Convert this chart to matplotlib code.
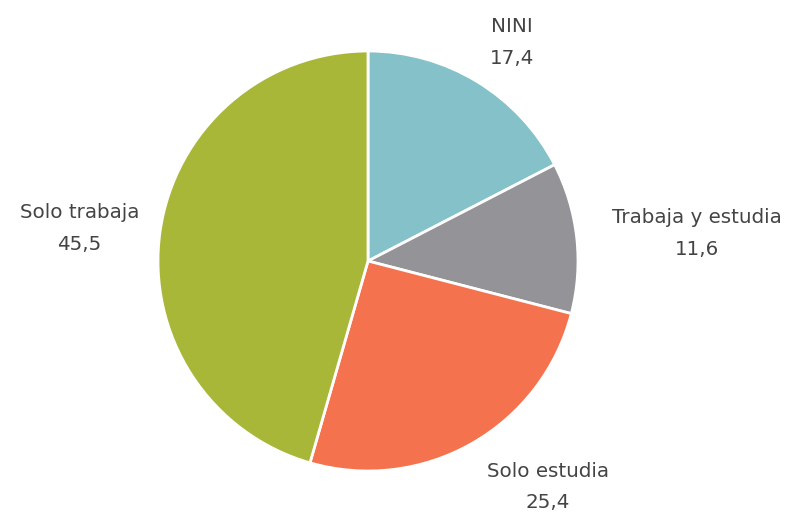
import matplotlib.pyplot as plt
import numpy as np

categories = ["NINI", "Trabaja y estudia", "Solo estudia", "Solo trabaja"]
values = [17.4, 11.6, 25.4, 45.5]
value_labels = ["17,4", "11,6", "25,4", "45,5"]
colors = ["#84c1c8", "#939398", "#f4734e", "#a9b739"]

plt.rcParams['font.family'] = ['DejaVu Sans']

fig = plt.figure(figsize=(7.96, 5.14), dpi=100)
W, H = 796, 514
cx, cy, r = 368, 514 - 261, 210
ax = fig.add_axes([(cx - r) / W, (cy - r) / H, 2 * r / W, 2 * r / H])

labels = [f"{c}\n{v}" for c, v in zip(categories, value_labels)]
wedges, texts = ax.pie(
    values,
    labels=     labels,
    colors=     colors,
    startangle= 90,
    counterclock=False,
    radius=     1,
    wedgeprops= dict(edgecolor="white", linewidth=2),
    textprops=  dict(fontsize=14.3, color="#444444", linespacing=1.85),
)

# label distance / x nudge per slice, placed at each wedge's mid angle
dists = [1.22, 1.17, 1.24, 1.10]
nudge = [0.05, 0.0, -0.05, 0.0]
for w, t, d, n in zip(wedges, texts, dists, nudge):
    ang = np.deg2rad((w.theta1 + w.theta2) / 2)
    t.set_position((d * np.cos(ang) + n, d * np.sin(ang)))
    t.set_multialignment("center")
    t.set_va("center")
texts[0].set_ha("center")

ax.set_xlim(-1, 1)
ax.set_ylim(-1, 1)
ax.set_aspect("equal")
ax.axis("off")

fig.savefig("out.png", dpi=100)
